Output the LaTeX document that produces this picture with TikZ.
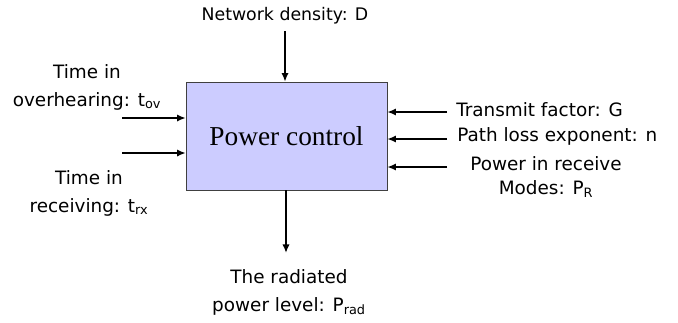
\documentclass[tikz,border=0pt]{standalone}
\usepackage{fontspec}
\setmainfont{DejaVu Sans}
\newfontfamily\boxfont{Liberation Serif}
\usetikzlibrary{arrows.meta}
\tikzset{
  lbl/.style={font=\fontsize{13.8}{21}\selectfont, align=center, inner sep=0pt},
  feed/.style={-{Latex[length=6.5pt,width=5.5pt]}, line width=1.4pt},
  pcbox/.style={draw=black!75, fill=blue!20, minimum width=150.75pt, minimum height=81pt,
    font=\boxfont\fontsize{20.5}{22}\selectfont},
}

\begin{document}
\begin{tikzpicture}[x=0.75pt,y=-0.75pt]
  \useasboundingbox (0,0) rectangle (678,322);
  \node[pcbox] (pc) at (286.5,136) {Power control};
  % top input
  \node[lbl, font=\fontsize{13}{20}\selectfont] (nd) at (285,16) {Network density: D};
  \coordinate (ndin) at (285,31);
  \draw[feed] (ndin) -- (ndin |- pc.north);
  % left inputs
  \node[lbl] (ov) at (87,87) {Time in\\overhearing: t\textsubscript{ov}};
  \node[lbl] (rx) at (89,193) {Time in\\receiving: t\textsubscript{rx}};
  \coordinate (ovin) at (122,118);
  \coordinate (rxin) at (122,153);
  \draw[feed] (ovin) -- (ovin -| pc.west);
  \draw[feed] (rxin) -- (rxin -| pc.west);
  % right inputs
  \node[lbl, anchor=west] (tf) at (456,110) {Transmit factor: G};
  \node[lbl, anchor=west] (pl) at (457,136) {Path loss exponent: n};
  \node[lbl] (pr) at (546,177) {Power in receive\\[-3pt]Modes: P\textsubscript{R}};
  \coordinate (tfin) at (447,112);
  \coordinate (plin) at (447,139);
  \coordinate (prin) at (447,167);
  \draw[feed] (tfin) -- (tfin -| pc.east);
  \draw[feed] (plin) -- (plin -| pc.east);
  \draw[feed] (prin) -- (prin -| pc.east);
  % output
  \coordinate (radout) at (286,253);
  \draw[feed] (radout |- pc.south) -- (radout);
  \node[lbl] (rad) at (289,292) {The radiated\\power level: P\textsubscript{rad}};
\end{tikzpicture}
\end{document}
